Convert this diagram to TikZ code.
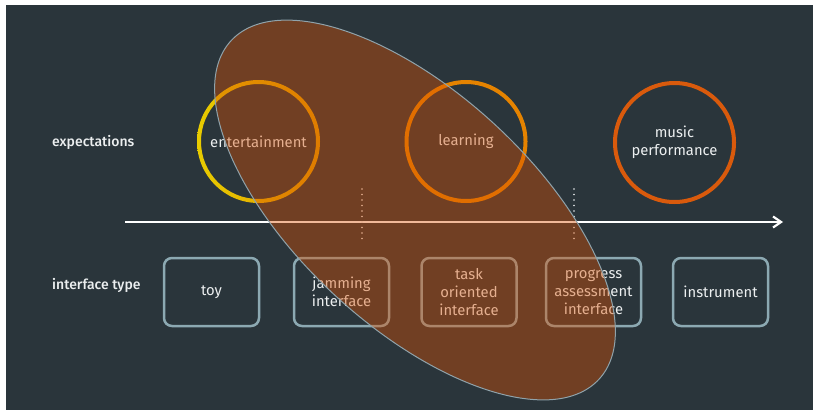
\documentclass[tikz,border=0pt]{standalone}
\usepackage{fontspec}
\setmainfont{Fira Sans}
\newfontfamily\labelfont{Fira Sans Medium}
\usetikzlibrary{arrows.meta}
\definecolor{panel}{HTML}{2A353B}
\definecolor{txt}{HTML}{ECEFF0}
\definecolor{boxline}{HTML}{8CA9B2}
\definecolor{entyellow}{HTML}{E8CC00}
\definecolor{entorange}{HTML}{E29A00}
\definecolor{learnorange}{HTML}{E58300}
\definecolor{musicorange}{HTML}{D95A0C}
\definecolor{blob}{HTML}{DC5000}
\definecolor{blobline}{HTML}{8FA3AB}
\tikzset{
  every node/.style={text=txt, font=\fontsize{14.8}{18}\selectfont},
  ring/.style={circle, minimum size=119pt, inner sep=0pt, line width=4pt, align=center},
  itype/.style={draw=boxline, line width=2.5pt, rounded corners=8pt,
    minimum width=95pt, minimum height=68pt, inner sep=0pt, align=center},
  rowlabel/.style={anchor=west, inner sep=0pt, font=\labelfont\fontsize{14}{18}\selectfont},
  divider/.style={draw=txt, line width=1.8pt, line cap=round, dash pattern=on 0pt off 5.5pt},
  axis/.style={draw=white, line width=2.5pt, -{Straight Barb[length=8pt,width=11pt,line width=2.2pt]}}
}
\begin{document}
\begin{tikzpicture}[x=1pt,y=-1pt]
  % canvas and dark panel
  \fill[white] (0,0) rectangle (813,410);
  \fill[panel] (6,5) rectangle (813,410);
  \useasboundingbox (0,0) rectangle (813,410);

  % row labels
  \node[rowlabel] (lexp) at (52,142) {expectations};
  \node[rowlabel] (ltype) at (52,285) {interface type};

  % expectation circles
  \node[ring] (ent) at (258.5,141.5) {entertainment};
  \shade[left color=entyellow, right color=entorange, even odd rule]
    (ent.center) circle (61.5) (ent.center) circle (57.5);
  \node[ring, draw=learnorange] (learn) at (466,141.5) {learning};
  \node[ring, draw=musicorange] (music) at (674.5,142.5) {music\\performance};

  % progression axis
  \coordinate (axstart) at (125,222);
  \coordinate (axend) at (783,222);
  \draw[axis] (axstart) -- (axend);

  % dotted dividers
  \coordinate (d1top) at (362,189);
  \coordinate (d1bot) at (362,243);
  \coordinate (d2top) at (574,189);
  \coordinate (d2bot) at (574,243);
  \draw[divider] (d1top) -- (d1bot);
  \draw[divider] (d2top) -- (d2bot);

  % interface type boxes
  \node[itype] (toy) at (211.5,292) {toy};
  \node[itype] (jam) at (341.5,292) {jamming\\interface};
  \node[itype] (task) at (469,292) {task\\oriented\\interface};
  \node[itype] (prog) at (593.5,292) {progress\\assessment\\interface};
  \node[itype] (instr) at (720.5,292) {instrument};

  % translucent highlight over the middle of the range
  \fill[blob, fill opacity=0.4, rotate around={-42.6:(415,210)}]
    (415,210) ellipse [x radius=250, y radius=117];
  \draw[blobline, line width=1pt, rotate around={-42.6:(415,210)}]
    (415,210) ellipse [x radius=250, y radius=117];
\end{tikzpicture}
\end{document}
